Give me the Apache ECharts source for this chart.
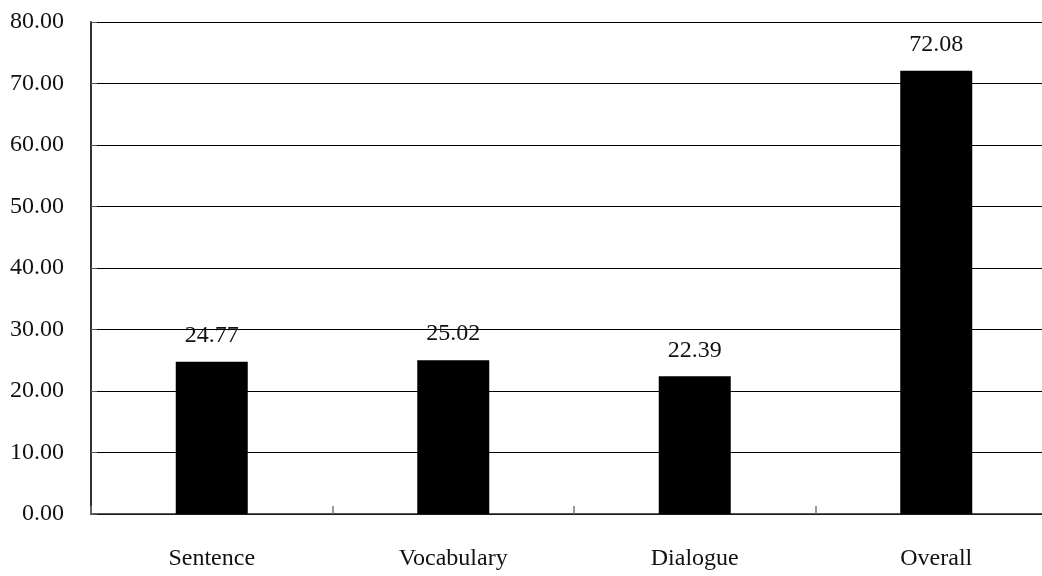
<!DOCTYPE html>
<html>
<head>
<meta charset="utf-8">
<script src="https://cdn.jsdelivr.net/npm/echarts@6/dist/echarts.min.js"></script>
<style>
html, body { margin: 0; padding: 0; background: #fff; overflow: hidden; }
#wrap { width: 1042px; height: 576px; overflow: hidden; }
#chart { width: 1057px; height: 576px; }
</style>
</head>
<body>
<div id="wrap"><div id="chart"></div></div>
<script>
var categories = ['Sentence', 'Vocabulary', 'Dialogue', 'Overall'];
var scores = [24.77, 25.02, 22.39, 72.08];
var yTicks = [0, 10, 20, 30, 40, 50, 60, 70, 80];

var font = '"Liberation Serif", "DejaVu Serif", serif';
// the plot runs past the right edge of the picture, so the chart is wider than the window
var myChart = echarts.init(document.getElementById('chart'));
var option = {
    animation: false,
    grid: {
        left: 91,
        right: 0,
        top: 22,
        bottom: 62,
        containLabel: false
    },
    xAxis: {
        type: 'category',
        data: categories,
        axisLine: { lineStyle: { color: '#222', width: 1.5 } },
        axisTick: {
            show: true,
            inside: true,
            length: 8,
            lineStyle: { color: '#777', width: 1.5 }
        },
        axisLabel: {
            margin: 33,
            color: '#111',
            fontFamily: font,
            fontSize: 24
        }
    },
    yAxis: {
        type: 'value',
        min: yTicks[0],
        max: yTicks[yTicks.length - 1],
        interval: 10,
        axisLine: { show: true, lineStyle: { color: '#333', width: 2 } },
        axisTick: { show: true, inside: true, length: 6, lineStyle: { color: '#555' } },
        splitLine: { lineStyle: { color: '#000', width: 1 } },
        axisLabel: {
            margin: 27,
            color: '#111',
            fontFamily: font,
            fontSize: 24,
            formatter: function (v) { return v.toFixed(2); }
        }
    },
    series: [{
        type: 'bar',
        data: scores,
        barWidth: 72,
        itemStyle: { color: '#000' },
        label: {
            show: true,
            position: 'top',
            distance: 14,
            color: '#111',
            fontFamily: font,
            fontSize: 24,
            formatter: function (p) { return p.value.toFixed(2); }
        }
    }]
};
myChart.setOption(option);
</script>
</body>
</html>
